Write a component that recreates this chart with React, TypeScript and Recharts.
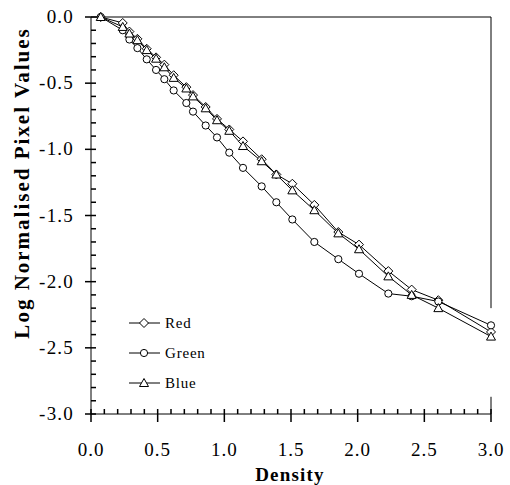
import React from 'react';
import { LineChart, Line, XAxis, YAxis, ReferenceLine, Legend, Label } from 'recharts';

const FONT = '"Liberation Serif", "Times New Roman", serif';

const density = [0.073, 0.238, 0.288, 0.348, 0.418, 0.488, 0.55, 0.62, 0.715, 0.765, 0.86, 0.945, 1.037, 1.14, 1.28, 1.39, 1.51, 1.675, 1.855, 2.01, 2.23, 2.405, 2.605, 3.0];
const red = [0, -0.045, -0.11, -0.165, -0.24, -0.305, -0.36, -0.44, -0.53, -0.59, -0.68, -0.77, -0.85, -0.94, -1.075, -1.19, -1.26, -1.42, -1.625, -1.72, -1.92, -2.06, -2.14, -2.38];
const green = [0, -0.1, -0.17, -0.235, -0.32, -0.4, -0.47, -0.555, -0.65, -0.715, -0.82, -0.91, -1.025, -1.14, -1.28, -1.4, -1.53, -1.7, -1.83, -1.94, -2.09, -2.11, -2.15, -2.33];
const blue = [0, -0.075, -0.125, -0.175, -0.25, -0.315, -0.38, -0.46, -0.54, -0.6, -0.69, -0.78, -0.86, -0.975, -1.09, -1.19, -1.31, -1.46, -1.635, -1.755, -1.96, -2.1, -2.2, -2.415];

const seriesNames = ['Red', 'Green', 'Blue'];

const xTicks = [0, 0.1, 0.2, 0.3, 0.4, 0.5, 0.6, 0.7, 0.8, 0.9, 1.0, 1.1, 1.2, 1.3, 1.4, 1.5, 1.6, 1.7, 1.8, 1.9, 2.0, 2.1, 2.2, 2.3, 2.4, 2.5, 2.6, 2.7, 2.8, 2.9, 3.0];
const yTicks = [0, -0.1, -0.2, -0.3, -0.4, -0.5, -0.6, -0.7, -0.8, -0.9, -1.0, -1.1, -1.2, -1.3, -1.4, -1.5, -1.6, -1.7, -1.8, -1.9, -2.0, -2.1, -2.2, -2.3, -2.4, -2.5, -2.6, -2.7, -2.8, -2.9, -3.0];

const rows = density.map((d, i) => ({ d, red: red[i], green: green[i], blue: blue[i] }));

const isMajor = (v: number) => Math.abs(v * 2 - Math.round(v * 2)) < 1e-6;
const fmt = (v: number) => (Math.abs(v) < 1e-9 ? '0.0' : v.toFixed(1));

const XTick = (props: any) => {
  const x = Number(props.x);
  const ay = Number(props.y);
  const v = Number(props.payload.value);
  const major = isMajor(v);
  return (
    <g>
      <rect x={x - 0.75} y={ay - 5} width={1.5} height={major ? 13 : 5} fill="#000" />
      {major && (
        <text x={x} y={ay + 42} textAnchor="middle" fontFamily={FONT} fontSize={19} letterSpacing={1} fill="#000">
          {fmt(v)}
        </text>
      )}
    </g>
  );
};

const YTick = (props: any) => {
  const ax = Number(props.x);
  const y = Number(props.y);
  const v = Number(props.payload.value);
  const major = isMajor(v);
  return (
    <g>
      <rect x={major ? ax - 6 : ax} y={y - 0.75} width={major ? 11 : 5} height={1.5} fill="#000" />
      {major && (
        <text x={ax - 17} y={y + 6} textAnchor="end" fontFamily={FONT} fontSize={19} letterSpacing={1.2} fill="#000">
          {fmt(v)}
        </text>
      )}
    </g>
  );
};

const Marker = ({ kind, cx, cy }: { kind: string; cx: number; cy: number }) => {
  if (kind === 'Red') {
    return <path d={`M${cx},${cy - 4.5}L${cx + 4.5},${cy}L${cx},${cy + 4.5}L${cx - 4.5},${cy}Z`} fill="#fff" stroke="#000" strokeWidth={1} />;
  }
  if (kind === 'Green') {
    return <circle cx={cx} cy={cy} r={3.6} fill="#fff" stroke="#000" strokeWidth={1} />;
  }
  return <path d={`M${cx},${cy - 4.5}L${cx + 4.5},${cy + 3.5}L${cx - 4.5},${cy + 3.5}Z`} fill="#fff" stroke="#000" strokeWidth={1} />;
};

const makeDot = (kind: string) => (props: any) => {
  const { cx, cy, index } = props;
  return <Marker key={`${kind}-${index}`} kind={kind} cx={cx} cy={cy} />;
};

const LegendBox = () => (
  <div style={{ fontFamily: FONT, fontSize: 15, letterSpacing: 0.8, color: '#000' }}>
    {seriesNames.map((name) => (
      <div key={name} style={{ height: 30, display: 'flex', alignItems: 'center' }}>
        <svg width={34} height={14} style={{ display: 'block' }}>
          <line x1={1} x2={32} y1={7} y2={7} stroke="#000" strokeWidth={1} />
          <Marker kind={name} cx={16} cy={7} />
        </svg>
        <span style={{ marginLeft: 3 }}>{name}</span>
      </div>
    ))}
  </div>
);

export default function App() {
  return (
    <div style={{ position: 'absolute', left: 0, top: 0, width: 510, height: 485, background: '#fff' }}>
      <LineChart width={510} height={485} data={rows} margin={{ top: 17, right: 19, bottom: 0, left: 0 }}>
        <XAxis
          type="number"
          dataKey="d"
          domain={[0, 3]}
          ticks={xTicks}
          interval={0}
          tick={XTick}
          tickLine={false}
          tickSize={0}
          tickMargin={0}
          height={71}
          stroke="#000"
        >
          <Label
            content={() => (
              <text x={290} y={481} textAnchor="middle" fontFamily={FONT} fontSize={19} fontWeight="bold" letterSpacing={1.2} fill="#000">
                Density
              </text>
            )}
          />
        </XAxis>
        <YAxis
          type="number"
          domain={[-3, 0]}
          ticks={yTicks}
          interval={0}
          tick={YTick}
          tickLine={false}
          tickSize={0}
          tickMargin={0}
          width={91}
          stroke="#000"
        >
          <Label
            content={() => (
              <text
                x={0}
                y={0}
                transform="translate(29,183) rotate(-90)"
                textAnchor="middle"
                fontFamily={FONT}
                fontSize={21}
                fontWeight="bold"
                letterSpacing={2}
                fill="#000"
              >
                Log Normalised Pixel Values
              </text>
            )}
          />
        </YAxis>
        <ReferenceLine y={0} stroke="#000" strokeWidth={1} />
        <ReferenceLine segment={[{ x: 3, y: 0 }, { x: 3, y: -2.2 }]} stroke="#000" strokeWidth={1} />
        <ReferenceLine segment={[{ x: 3, y: -2.87 }, { x: 3, y: -3 }]} stroke="#000" strokeWidth={1} />
        <Legend
          layout="vertical"
          align="center"
          verticalAlign="middle"
          content={() => <LegendBox />}
          wrapperStyle={{ left: 128, top: 308, width: 110, height: 90 }}
        />
        <Line dataKey="red" name="Red" stroke="#000" strokeWidth={1} isAnimationActive={false} dot={makeDot('Red')} />
        <Line dataKey="green" name="Green" stroke="#000" strokeWidth={1} isAnimationActive={false} dot={makeDot('Green')} />
        <Line dataKey="blue" name="Blue" stroke="#000" strokeWidth={1} isAnimationActive={false} dot={makeDot('Blue')} />
      </LineChart>
    </div>
  );
}
